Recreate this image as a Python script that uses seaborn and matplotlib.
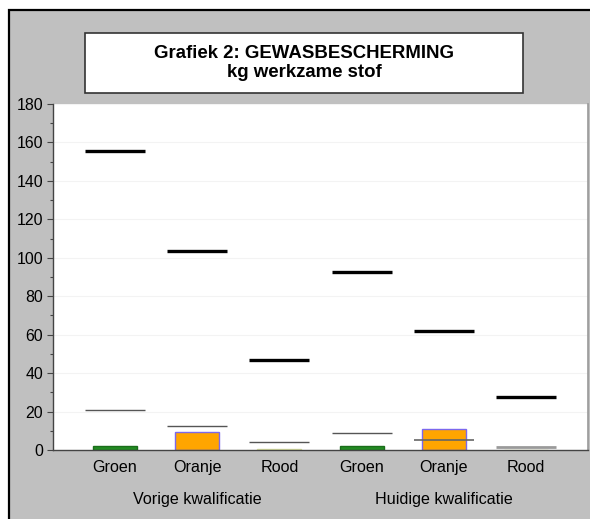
import matplotlib
matplotlib.use("Agg")
import matplotlib.pyplot as plt
import matplotlib.patches as mpatches
import seaborn as sns
import pandas as pd
import numpy as np

# data
categories = ["Groen", "Oranje", "Rood", "Groen", "Oranje", "Rood"]
groups = ["Vorige kwalificatie", "Huidige kwalificatie"]
bar_values = [2.2, 9.2, 0.3, 2.2, 10.8, 0.0]
max_values = [155.3, 103.5, 46.8, 92.6, 61.9, 27.6]
low_values = [20.8, 12.5, 4.2, 8.8, 5.4, 1.7]
bar_colors = ["#228b22", "#ffa500", "#d8e0a0", "#228b22", "#ffa500", "#d8e0a0"]
bar_edges = ["#1a6e1a", "#7b68ee", "#d8e0a0", "#1a6e1a", "#7b68ee", "#d8e0a0"]
low_colors = ["#555555", "#555555", "#555555", "#555555", "#666666", "#9a9a9a"]
low_widths = [1.0, 1.0, 1.0, 1.0, 1.2, 2.0]

sns.set_style("white")
plt.rcParams['font.family'] = ['Liberation Sans', 'DejaVu Sans']
plt.rcParams['text.color'] = 'black'
plt.rcParams['xtick.color'] = 'black'
plt.rcParams['ytick.color'] = 'black'

df = pd.DataFrame({"pos": [str(i) for i in range(len(categories))],
                   "waarde": bar_values})

fig = plt.figure(figsize=(5.9, 5.19), dpi=100, facecolor="white")

# grey panel with black frame
frame = mpatches.Rectangle((9 / 590, -0.1), 1.2, 1.1 - 10 / 519,
                           transform=fig.transFigure, facecolor="#c0c0c0",
                           edgecolor="black", linewidth=1.6, zorder=-10)
fig.patches.append(frame)

# title box
tbox = mpatches.Rectangle((85 / 590, (519 - 93) / 519), 438 / 590, 60 / 519,
                          transform=fig.transFigure, facecolor="white",
                          edgecolor="#333333", linewidth=1.2, zorder=-5)
fig.patches.append(tbox)
fig.text(304 / 590, (519 - 63) / 519, "Grafiek 2: GEWASBESCHERMING\nkg werkzame stof",
         ha="center", va="center", fontsize=13.4, fontweight="bold", linespacing=1.08)

ax = fig.add_axes([53 / 590, (519 - 450) / 519, 535 / 590, 346 / 519])
ax.set_facecolor("white")

sns.barplot(data=df, x="pos", y="waarde", hue="pos", palette=bar_colors,
            legend=False, width=0.535, saturation=1, ax=ax, linewidth=1)
for patch, ec in zip(ax.patches, bar_edges):
    patch.set_edgecolor(ec)

x = np.arange(len(categories))
half = 0.365
ax.hlines(max_values, x - half, x + half, colors="black", linewidth=2.4, zorder=4)
for xi, v, c, w in zip(x, low_values, low_colors, low_widths):
    ax.hlines(v, xi - half, xi + half, colors=c, linewidth=w, zorder=4)

ax.set_xlim(-0.754, 5.754)
ax.set_ylim(0, 180)
ax.set_yticks(np.arange(0, 181, 20))
ax.set_yticks(np.arange(10, 180, 20), minor=True)
ax.yaxis.grid(True, color="#f3f3f3", linewidth=0.8)
ax.set_axisbelow(True)
ax.set_xticks(x)
ax.set_xticklabels(categories, fontsize=11.6)
ax.tick_params(axis="x", length=0, pad=7.5)
ax.tick_params(axis="y", which="major", length=4.5, width=0.8, color="#444444",
               labelsize=11.4, pad=2.5, left=True)
ax.tick_params(axis="y", which="minor", length=2.5, width=0.8, color="#444444", left=True)
ax.set_xlabel("")
ax.set_ylabel("")

for side in ["left", "bottom"]:
    ax.spines[side].set_color("#444444")
    ax.spines[side].set_linewidth(1)
ax.spines["top"].set_visible(False)
ax.spines["right"].set_color("#999999")
ax.spines["right"].set_linewidth(1.2)

# group labels under the categories
for gi, g in enumerate(groups):
    ax.text(gi * 3 + 1, -0.142, g, transform=ax.get_xaxis_transform(),
            ha="center", va="center", fontsize=11.6)

fig.savefig("out.png", dpi=100, facecolor=fig.get_facecolor())
